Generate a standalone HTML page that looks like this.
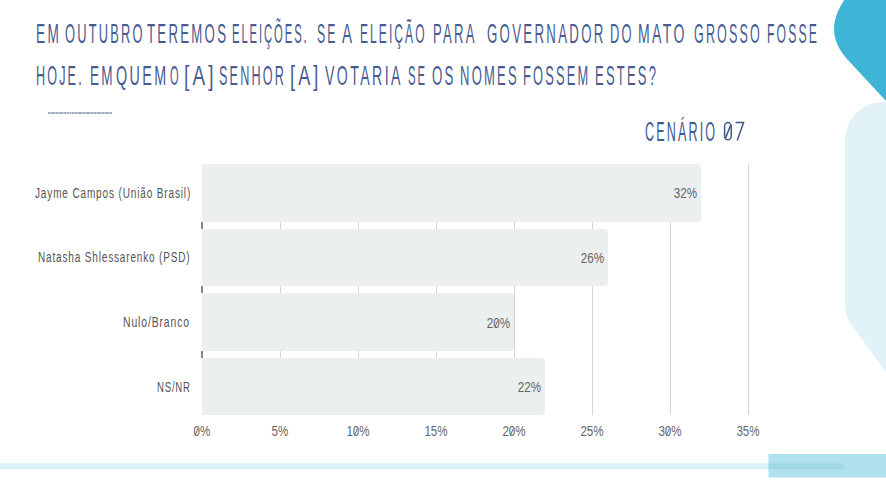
<!DOCTYPE html>
<html><head><meta charset="utf-8">
<style>
html,body{margin:0;padding:0;}
body{width:886px;height:493px;overflow:hidden;background:#fff;position:relative;font-family:"Liberation Sans",sans-serif;}
.w{position:absolute;white-space:pre;transform-origin:0 0;line-height:1;font-size:28px;letter-spacing:4.8px;color:#475b91;}
.dots{position:absolute;left:48px;top:111.8px;width:64.2px;height:2.4px;background:repeating-linear-gradient(90deg,#a6abc0 0 1.9px,#cdd1dd 1.9px 2.7px);}
.lab{position:absolute;white-space:pre;line-height:1;font-size:14px;letter-spacing:1.2px;color:#555;transform-origin:0 0;}
.pct{position:absolute;white-space:pre;line-height:1;font-size:14px;color:#666;transform-origin:100% 0;}
.ax{position:absolute;white-space:pre;line-height:1;font-size:14px;color:#666;transform-origin:50% 0;}
.bar{position:absolute;left:202px;height:57.6px;background:#ebeff0;border-radius:0 4px 4px 0;}
.z{position:relative;}
.z::after{content:"";position:absolute;left:3.6px;top:4.5px;width:1.1px;height:7.5px;background:currentColor;transform:rotate(28deg);}
.grid{position:absolute;top:164px;height:251.4px;width:1.2px;background:#d4d4d4;}
.tick{position:absolute;left:201.4px;width:1.2px;background:#858585;}
</style></head><body>
<svg style="position:absolute;left:0;top:0" width="886" height="493">
  <path d="M887,102 L883,102 C862,102 845,119 845,140 L845,304 C845,312 847,318 851,324 L887,374 Z" fill="#e1f2f8"/>
  <path d="M845,-1 C840,6 834,17 834,29 C834,40 839,50 847,59 L887,102 L887,-1 Z" fill="#3eb5d6"/>
  <rect x="0" y="463.3" width="845" height="5.8" fill="#dbf0f7"/>
  <rect x="768.5" y="454" width="117.5" height="23.5" fill="#aee0ee"/>
  <rect x="768.5" y="463.5" width="76" height="5.5" fill="#a1d8e6"/>
</svg>

<div class="w" style="left:36.3px;top:20px;transform:scaleX(0.486)">EM</div>
<div class="w" style="left:65.1px;top:20px;transform:scaleX(0.459)">OUTUBRO</div>
<div class="w" style="left:147.4px;top:20px;transform:scaleX(0.472)">TEREMOS</div>
<div class="w" style="left:232.2px;top:20px;transform:scaleX(0.401)">ELEIÇÕES.</div>
<div class="w" style="left:317.4px;top:20px;transform:scaleX(0.436)">SE</div>
<div class="w" style="left:342.4px;top:20px;transform:scaleX(0.537)">A</div>
<div class="w" style="left:359.6px;top:20px;transform:scaleX(0.430)">ELEIÇÃO</div>
<div class="w" style="left:432.9px;top:20px;transform:scaleX(0.468)">PARA</div>
<div class="w" style="left:487.4px;top:20px;transform:scaleX(0.474)">GOVERNADOR</div>
<div class="w" style="left:609.8px;top:20px;transform:scaleX(0.461)">DO</div>
<div class="w" style="left:637.9px;top:20px;transform:scaleX(0.502)">MATO</div>
<div class="w" style="left:694.4px;top:20px;transform:scaleX(0.448)">GROSSO</div>
<div class="w" style="left:766.8px;top:20px;transform:scaleX(0.437)">FOSSE</div>
<div class="w" style="left:36.3px;top:62px;transform:scaleX(0.449)">HOJE.</div>
<div class="w" style="left:89.5px;top:62px;transform:scaleX(0.484)">EM</div>
<div class="w" style="left:116.4px;top:62px;transform:scaleX(0.511)">QUEM</div>
<div class="w" style="left:169.6px;top:62px;transform:scaleX(0.395)">O</div>
<div class="w" style="left:184.4px;top:62px;transform:scaleX(0.675)">[A]</div>
<div class="w" style="left:219.3px;top:62px;transform:scaleX(0.451)">SENHOR</div>
<div class="w" style="left:290.0px;top:62px;transform:scaleX(0.6475)">[A]</div>
<div class="w" style="left:325.1px;top:62px;transform:scaleX(0.504)">VOTARIA</div>
<div class="w" style="left:407.7px;top:62px;transform:scaleX(0.405)">SE</div>
<div class="w" style="left:431.7px;top:62px;transform:scaleX(0.474)">OS</div>
<div class="w" style="left:459.6px;top:62px;transform:scaleX(0.465)">NOMES</div>
<div class="w" style="left:522.8px;top:62px;transform:scaleX(0.459)">FOSSEM</div>
<div class="w" style="left:595.0px;top:62px;transform:scaleX(0.464)">ESTES?</div>

<div class="dots"></div>
<div class="w" style="left:645.1px;top:118.5px;font-size:27px;letter-spacing:4.6px;color:#42598f;transform:scaleX(0.4655)">CENÁRIO</div>
<svg style="position:absolute;left:0;top:0" width="886" height="493"><g fill="none" stroke="#42598f" stroke-width="1.5">
<rect x="724.6" y="122.6" width="6.6" height="17.2" rx="3.3" ry="3.6"/>
<line x1="725.4" y1="138.4" x2="730.9" y2="124.6"/>
<polyline points="735.6,122.6 743.6,122.6 737.2,140.6"/></g></svg>

<div class="grid" style="left:279.7px"></div>
<div class="grid" style="left:357.7px"></div>
<div class="grid" style="left:435.7px"></div>
<div class="grid" style="left:513.7px"></div>
<div class="grid" style="left:591.7px"></div>
<div class="grid" style="left:669.7px"></div>
<div class="grid" style="left:747.7px"></div>
<div class="tick" style="top:221.6px;height:7px"></div>
<div class="tick" style="top:286.2px;height:7px"></div>
<div class="tick" style="top:350.8px;height:7px"></div>

<div class="bar" style="top:164px;width:499px"></div>
<div class="bar" style="top:228.6px;width:405.6px"></div>
<div class="bar" style="top:293.2px;width:312px"></div>
<div class="bar" style="top:357.8px;width:343.2px"></div>

<div class="lab" style="left:34.7px;top:185.8px;transform:scaleX(0.715)">Jayme Campos (União Brasil)</div>
<div class="lab" style="left:37.9px;top:250.4px;transform:scaleX(0.7125)">Natasha Shlessarenko (PSD)</div>
<div class="lab" style="left:123.3px;top:315px;transform:scaleX(0.742)">Nulo/Branco</div>
<div class="lab" style="left:156.7px;top:379.6px;transform:scaleX(0.682)">NS/NR</div>

<div class="pct" id="p1" style="right:189px;top:186px;transform:scaleX(0.83)">32%</div>
<div class="pct" id="p2" style="right:282px;top:251px;transform:scaleX(0.83)">26%</div>
<div class="pct" id="p3" style="right:376px;top:316px;transform:scaleX(0.83)">2<span class="z">0</span>%</div>
<div class="pct" id="p4" style="right:345px;top:380px;transform:scaleX(0.83)">22%</div>

<div class="ax" style="left:188px;top:424px;width:28px;text-align:center;transform:scaleX(0.83)"><span class="z">0</span>%</div>
<div class="ax" style="left:266px;top:424px;width:28px;text-align:center;transform:scaleX(0.83)">5%</div>
<div class="ax" style="left:344px;top:424px;width:28px;text-align:center;transform:scaleX(0.83)">1<span class="z">0</span>%</div>
<div class="ax" style="left:422px;top:424px;width:28px;text-align:center;transform:scaleX(0.83)">15%</div>
<div class="ax" style="left:500px;top:424px;width:28px;text-align:center;transform:scaleX(0.83)">2<span class="z">0</span>%</div>
<div class="ax" style="left:578px;top:424px;width:28px;text-align:center;transform:scaleX(0.83)">25%</div>
<div class="ax" style="left:656px;top:424px;width:28px;text-align:center;transform:scaleX(0.83)">3<span class="z">0</span>%</div>
<div class="ax" style="left:734px;top:424px;width:28px;text-align:center;transform:scaleX(0.83)">35%</div>
</body></html>
